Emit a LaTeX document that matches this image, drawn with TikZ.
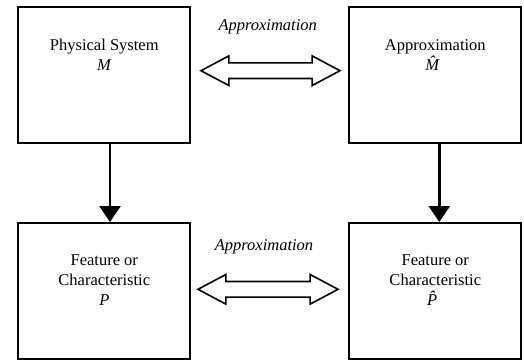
\documentclass[tikz,border=0pt]{standalone}
\usepackage{fontspec}
\setmainfont{Liberation Serif}
\usetikzlibrary{arrows.meta,shapes.arrows,calc}
\tikzset{
  box/.style={draw, line width=1.8pt, minimum width=172pt, minimum height=136pt, inner sep=0pt},
  lbl/.style={align=center, font=\fontsize{16.5}{20}\selectfont, inner sep=0pt},
  tag/.style={font=\fontsize{16.5}{20}\selectfont\itshape, inner sep=0pt},
  dbl/.style={draw, line width=1.6pt, double arrow, inner sep=0pt,
    text height=14pt, text depth=0pt, text width=0pt,
    double arrow head extend=7pt, double arrow tip angle=56},
  down/.style={line width=2.4pt, -{Triangle[width=21pt,length=16pt]}}
}
\begin{document}
\begin{tikzpicture}[x=1pt,y=-1pt]
\useasboundingbox (0,0) rectangle (524,362);
% four boxes
\node[box] (tl) at (104.3,74.9) {};
\node[box] (tr) at (435.3,74.9) {};
\node[box] (bl) at (104.3,290.9) {};
\node[box] (br) at (435.3,290.9) {};
% box texts
\node[lbl] (tlt) at ($(tl.north)+(0,49)$) {Physical System\\\textit{M}};
\node[lbl] (trt) at ($(tr.north)+(0,49)$) {Approximation\\\textit{\^{M}}};
\node[lbl] (blt) at ($(bl.north)+(0,58)$) {Feature or\\Characteristic\\\textit{P}};
\node[lbl] (brt) at ($(br.north)+(0,58)$) {Feature or\\Characteristic\\\textit{\^{P}}};
% double-headed approximation arrows
\node[dbl, minimum height=139pt] (ta) at (270.5,70.7) {};
\node[dbl, minimum height=140pt] (ba) at (268,289.3) {};
\node[tag] (tat) at (267.7,26.7) {Approximation};
\node[tag] (bat) at (264,246.7) {Approximation};
% downward arrows
\draw[down] ([xshift=5.7pt]tl.south) -- ([xshift=5.7pt]bl.north);
\draw[down] ([xshift=4pt]tr.south) -- ([xshift=4pt]br.north);
\end{tikzpicture}
\end{document}
